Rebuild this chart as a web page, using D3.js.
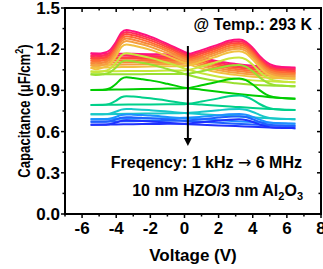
<!DOCTYPE html>
<html>
<head>
<meta charset="utf-8">
<script src="https://cdn.jsdelivr.net/npm/d3@7"></script>
<style>
  body { margin: 0; background: #fff; }
  text { font-family: "Liberation Sans", Arial, sans-serif; font-weight: bold; fill: #000; }
</style>
</head>
<body>
<div id="chart"></div>
<script>
// voltage grids for the two sweep branches
var voltsDown = [-5.5, -5.2, -4.8, -4.4, -4.0, -3.7, -3.4, -3.0, -2.5, -2.0, -1.0, 0, 1, 2, 3, 4, 5, 6, 6.5];
var voltsUp = [-5.5, -4, -3, -2, -1, 0, 1, 2, 2.6, 3.2, 3.6, 4.0, 4.4, 4.8, 5.2, 5.7, 6.1, 6.5];

// capacitance, one row per frequency (1 kHz at top -> 6 MHz at bottom)
var capDown = [
  [1.170, 1.158, 1.170, 1.190, 1.255, 1.320, 1.340, 1.330, 1.313, 1.292, 1.239, 1.180, 1.140, 1.111, 1.093, 1.080, 1.072, 1.067, 1.065],
  [1.153, 1.141, 1.153, 1.174, 1.239, 1.304, 1.325, 1.316, 1.299, 1.279, 1.227, 1.170, 1.129, 1.099, 1.080, 1.067, 1.059, 1.054, 1.052],
  [1.136, 1.124, 1.136, 1.157, 1.223, 1.289, 1.310, 1.301, 1.284, 1.264, 1.214, 1.158, 1.117, 1.087, 1.068, 1.055, 1.047, 1.042, 1.040],
  [1.119, 1.107, 1.119, 1.140, 1.207, 1.274, 1.295, 1.286, 1.270, 1.250, 1.201, 1.146, 1.104, 1.075, 1.056, 1.042, 1.034, 1.029, 1.027],
  [1.102, 1.090, 1.102, 1.123, 1.190, 1.257, 1.278, 1.269, 1.253, 1.235, 1.187, 1.133, 1.091, 1.062, 1.043, 1.029, 1.021, 1.016, 1.014],
  [1.085, 1.073, 1.085, 1.106, 1.173, 1.239, 1.260, 1.251, 1.236, 1.217, 1.171, 1.118, 1.077, 1.047, 1.028, 1.015, 1.007, 1.002, 1.000],
  [1.066, 1.054, 1.066, 1.086, 1.151, 1.215, 1.235, 1.227, 1.212, 1.195, 1.150, 1.100, 1.060, 1.031, 1.013, 1.000, 0.992, 0.987, 0.985],
  [1.038, 1.033, 1.038, 1.054, 1.104, 1.154, 1.170, 1.163, 1.151, 1.137, 1.101, 1.060, 1.025, 1.000, 0.984, 0.973, 0.966, 0.962, 0.960],
  [1.017, 1.013, 1.017, 1.029, 1.068, 1.106, 1.118, 1.112, 1.101, 1.089, 1.056, 1.020, 0.989, 0.966, 0.952, 0.942, 0.935, 0.932, 0.930],
  [0.903, 0.903, 0.903, 0.914, 0.949, 0.984, 0.995, 0.990, 0.982, 0.973, 0.948, 0.920, 0.905, 0.890, 0.875, 0.862, 0.851, 0.843, 0.840],
  [0.794, 0.794, 0.794, 0.802, 0.826, 0.850, 0.858, 0.855, 0.849, 0.842, 0.825, 0.806, 0.797, 0.788, 0.780, 0.772, 0.765, 0.759, 0.757],
  [0.726, 0.726, 0.726, 0.731, 0.746, 0.760, 0.765, 0.763, 0.760, 0.756, 0.746, 0.735, 0.727, 0.719, 0.711, 0.704, 0.697, 0.692, 0.690],
  [0.690, 0.690, 0.690, 0.694, 0.708, 0.721, 0.725, 0.723, 0.720, 0.717, 0.707, 0.697, 0.690, 0.683, 0.676, 0.670, 0.664, 0.659, 0.657],
  [0.672, 0.672, 0.672, 0.676, 0.689, 0.701, 0.705, 0.703, 0.700, 0.697, 0.688, 0.678, 0.671, 0.665, 0.658, 0.652, 0.647, 0.642, 0.640],
  [0.650, 0.650, 0.650, 0.654, 0.666, 0.678, 0.682, 0.680, 0.677, 0.674, 0.665, 0.655, 0.650, 0.645, 0.640, 0.635, 0.630, 0.627, 0.625]
];
var capUp = [
  [1.170, 1.167, 1.166, 1.164, 1.162, 1.160, 1.193, 1.235, 1.261, 1.270, 1.254, 1.209, 1.151, 1.106, 1.081, 1.071, 1.067, 1.065],
  [1.153, 1.152, 1.151, 1.150, 1.149, 1.148, 1.181, 1.223, 1.249, 1.258, 1.242, 1.196, 1.139, 1.093, 1.068, 1.058, 1.054, 1.052],
  [1.136, 1.136, 1.136, 1.136, 1.136, 1.136, 1.169, 1.211, 1.237, 1.246, 1.230, 1.184, 1.127, 1.081, 1.056, 1.046, 1.042, 1.040],
  [1.119, 1.120, 1.120, 1.121, 1.121, 1.122, 1.155, 1.197, 1.224, 1.233, 1.217, 1.171, 1.114, 1.068, 1.043, 1.033, 1.029, 1.027],
  [1.102, 1.104, 1.105, 1.106, 1.107, 1.108, 1.141, 1.183, 1.209, 1.218, 1.202, 1.157, 1.100, 1.055, 1.030, 1.020, 1.016, 1.014],
  [1.085, 1.087, 1.089, 1.091, 1.092, 1.094, 1.127, 1.168, 1.194, 1.203, 1.187, 1.142, 1.085, 1.041, 1.016, 1.006, 1.002, 1.000],
  [1.066, 1.069, 1.071, 1.074, 1.076, 1.078, 1.110, 1.151, 1.176, 1.185, 1.169, 1.125, 1.069, 1.025, 1.001, 0.991, 0.987, 0.985],
  [1.038, 1.040, 1.041, 1.042, 1.044, 1.045, 1.074, 1.110, 1.132, 1.140, 1.126, 1.086, 1.036, 0.996, 0.974, 0.965, 0.962, 0.960],
  [1.017, 1.018, 1.018, 1.019, 1.019, 1.020, 1.040, 1.064, 1.080, 1.085, 1.073, 1.039, 0.995, 0.961, 0.942, 0.935, 0.932, 0.930],
  [0.903, 0.906, 0.908, 0.911, 0.913, 0.915, 0.937, 0.964, 0.981, 0.987, 0.975, 0.943, 0.902, 0.869, 0.852, 0.844, 0.841, 0.840],
  [0.794, 0.796, 0.797, 0.798, 0.799, 0.800, 0.819, 0.842, 0.857, 0.862, 0.854, 0.831, 0.801, 0.778, 0.765, 0.760, 0.758, 0.757],
  [0.726, 0.728, 0.730, 0.732, 0.733, 0.735, 0.744, 0.755, 0.763, 0.765, 0.759, 0.743, 0.722, 0.705, 0.696, 0.692, 0.691, 0.690],
  [0.690, 0.693, 0.695, 0.696, 0.698, 0.700, 0.708, 0.719, 0.726, 0.728, 0.722, 0.707, 0.687, 0.671, 0.663, 0.659, 0.658, 0.657],
  [0.672, 0.674, 0.676, 0.677, 0.679, 0.680, 0.690, 0.702, 0.709, 0.712, 0.706, 0.690, 0.670, 0.654, 0.646, 0.642, 0.641, 0.640],
  [0.650, 0.652, 0.654, 0.655, 0.657, 0.658, 0.668, 0.680, 0.687, 0.690, 0.685, 0.670, 0.652, 0.638, 0.630, 0.627, 0.626, 0.625]
];
var lineColors = ["#ff1080", "#ff2a5c", "#ff4540", "#ff6a35", "#f7873a", "#f5a040", "#f2c040",
                  "#c8e63c", "#98e030", "#00cc00", "#00d08a", "#18c8c8", "#1e90ff", "#2060ff", "#1e32ff"];

var xTicks = [-6, -4, -2, 0, 2, 4, 6, 8];
var yTicks = [0.0, 0.3, 0.6, 0.9, 1.2, 1.5];

var cfg = { width: 323, height: 269, left: 65, right: 321, top: 8, bottom: 214 };

var svg = d3.select("#chart").append("svg")
  .attr("width", cfg.width)
  .attr("height", cfg.height);

var x = d3.scaleLinear().domain([-7, 8]).range([cfg.left, cfg.right]);
var y = d3.scaleLinear().domain([0, 1.5]).range([cfg.bottom, cfg.top]);

// curves: both sweep branches for each frequency
var line = d3.line()
  .x(function(d) { return x(d[0]); })
  .y(function(d) { return y(d[1]); })
  .curve(d3.curveMonotoneX);

var curves = svg.append("g");
capDown.forEach(function(row, i) {
  curves.append("path")
    .datum(voltsDown.map(function(v, j) { return [v, row[j]]; }))
    .attr("d", line)
    .attr("fill", "none")
    .attr("stroke", lineColors[i])
    .attr("stroke-width", 2);
  curves.append("path")
    .datum(voltsUp.map(function(v, j) { return [v, capUp[i][j]]; }))
    .attr("d", line)
    .attr("fill", "none")
    .attr("stroke", lineColors[i])
    .attr("stroke-width", 2);
});

// axes: ticks out on bottom/left, mirrored in on top/right
var xMinor = d3.range(-7, 9, 1);
var yMinor = d3.range(0, 1.51, 0.15);

function tickLines(g, vals, fn) {
  g.append("g").selectAll("line").data(vals).enter().append("line")
    .attr("stroke", "#000").attr("stroke-width", 1.5)
    .each(fn);
}

var ax = svg.append("g");
tickLines(ax, xMinor, function(d) {
  var major = xTicks.indexOf(d) >= 0;
  d3.select(this).attr("x1", x(d)).attr("x2", x(d)).attr("y1", cfg.bottom).attr("y2", cfg.bottom + (major ? 4 : 2.5));
});
tickLines(ax, xMinor, function(d) {
  var major = xTicks.indexOf(d) >= 0;
  d3.select(this).attr("x1", x(d)).attr("x2", x(d)).attr("y1", cfg.top).attr("y2", cfg.top + (major ? 4 : 2.5));
});
tickLines(ax, yMinor, function(d, i) {
  d3.select(this).attr("y1", y(d)).attr("y2", y(d)).attr("x1", cfg.left).attr("x2", cfg.left - (i % 2 === 0 ? 4 : 2.5));
});
tickLines(ax, yMinor, function(d, i) {
  d3.select(this).attr("y1", y(d)).attr("y2", y(d)).attr("x1", cfg.right).attr("x2", cfg.right - (i % 2 === 0 ? 4 : 2.5));
});

svg.append("rect")
  .attr("x", cfg.left).attr("y", cfg.top)
  .attr("width", cfg.right - cfg.left).attr("height", cfg.bottom - cfg.top)
  .attr("fill", "none").attr("stroke", "#000").attr("stroke-width", 2);

svg.append("g").selectAll("text").data(xTicks).enter().append("text")
  .attr("x", function(d) { return x(d); })
  .attr("y", 234)
  .attr("text-anchor", "middle")
  .style("font-size", "17px")
  .text(function(d) { return d; });

svg.append("g").selectAll("text").data(yTicks).enter().append("text")
  .attr("x", 60)
  .attr("y", function(d) { return y(d) + 6; })
  .attr("text-anchor", "end")
  .style("font-size", "17px")
  .text(function(d) { return d3.format(".1f")(d); });

// axis titles
svg.append("text")
  .attr("x", 193).attr("y", 261)
  .attr("text-anchor", "middle")
  .style("font-size", "17px")
  .text("Voltage (V)");

// y title: a bit condensed along its length, like the original
var yt = svg.append("text")
  .attr("transform", "translate(30,111) rotate(-90) scale(0.82,1)")
  .attr("text-anchor", "middle")
  .style("font-size", "16px");
yt.append("tspan").text("Capacitance (\u03bcF/cm");
yt.append("tspan").attr("dy", -7).style("font-size", "11px").text("2");
yt.append("tspan").attr("dy", 7).text(")");

// annotations
svg.append("text")
  .attr("x", 312).attr("y", 30)
  .attr("text-anchor", "end")
  .style("font-size", "16px")
  .text("@ Temp.: 293 K");

var freq = svg.append("text")
  .attr("x", 302).attr("y", 168)
  .attr("text-anchor", "end")
  .style("font-size", "16px");
freq.append("tspan").text("Freqency: 1 kHz ");
freq.append("tspan").style("font-family", "'DejaVu Sans', sans-serif").style("font-weight", "normal").text("\u2192");
freq.append("tspan").text(" 6 MHz");

var lbl = svg.append("text")
  .attr("x", 303).attr("y", 196)
  .attr("text-anchor", "end")
  .style("font-size", "16px");
lbl.append("tspan").text("10 nm HZO/3 nm Al");
lbl.append("tspan").attr("dy", 4).style("font-size", "11px").text("2");
lbl.append("tspan").attr("dy", -4).text("O");
lbl.append("tspan").attr("dy", 4).style("font-size", "11px").text("3");

// frequency arrow
svg.append("defs").append("marker")
  .attr("id", "head")
  .attr("viewBox", "0 0 10 10")
  .attr("refX", 5).attr("refY", 5)
  .attr("markerWidth", 4).attr("markerHeight", 4)
  .attr("orient", "auto")
  .append("path").attr("d", "M0,0 L10,5 L0,10 z").attr("fill", "#000");

svg.append("line")
  .attr("x1", x(0.2)).attr("x2", x(0.2))
  .attr("y1", 46).attr("y2", 142)
  .attr("stroke", "#000").attr("stroke-width", 2)
  .attr("marker-end", "url(#head)");
</script>
</body>
</html>
